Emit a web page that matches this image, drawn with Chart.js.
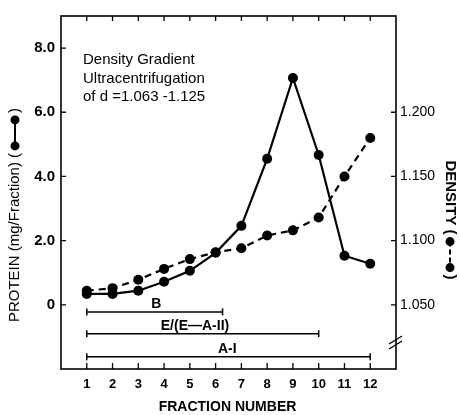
<!DOCTYPE html>
<html><head><meta charset="utf-8">
<script src="https://cdn.jsdelivr.net/npm/chart.js@4.4.0/dist/chart.umd.min.js"></script>
<style>html,body{margin:0;padding:0;background:#fff;} #wrap{width:460px;height:415px;}</style>
</head><body><div id="wrap"><canvas id="c" width="460" height="415"></canvas></div>
<script>
// ---- data ----
const fractions = [1,2,3,4,5,6,7,8,9,10,11,12];
const protein = [0.34,0.34,0.44,0.72,1.06,1.62,2.46,4.55,7.07,4.67,1.53,1.28];
const density = [1.061,1.063,1.0695,1.078,1.0856,1.091,1.094,1.104,1.108,1.118,1.150,1.180];
const proteinTicks = [0,2,4,6,8];
const densityTicks = [1.05,1.10,1.15,1.20];
const rangeNames = ['B','E/(E\u2014A-II)','A-I'];
const rangeStart = [1,1,1];
const rangeEnd = [6.27,10,12];
const annotationLines = ['Density Gradient','Ultracentrifugation','of d =1.063 -1.125'];
const xTitle = 'FRACTION NUMBER';
const leftTitle = ['PROTEIN (mg/Fraction) (', ')'];
const rightTitle = ['DENSITY (', ')'];

// ---- layout helpers (not data) ----
const rangeLevel = [-0.22,-0.9,-1.62];
const rangeLabelAt = [3.7,5.2,6.45];
const FONT = '"Liberation Sans", Arial, Helvetica, sans-serif';

const datasets = [
  {label:'protein', data: fractions.map((f,i)=>({x:f,y:protein[i]})), yAxisID:'y',
   borderColor:'#000', backgroundColor:'#000', borderWidth:2.2, pointRadius:5, pointBackgroundColor:'#000', pointBorderWidth:0, tension:0},
  {label:'density', data: fractions.map((f,i)=>({x:f,y:density[i]})), yAxisID:'y2',
   borderColor:'#000', backgroundColor:'#000', borderWidth:2.2, borderDash:[7,5], pointRadius:5, pointBackgroundColor:'#000', pointBorderWidth:0, tension:0}
];
rangeNames.forEach((n,i)=>{
  datasets.push({label:n, data:[{x:rangeStart[i],y:rangeLevel[i]},{x:rangeEnd[i],y:rangeLevel[i]}], yAxisID:'y',
    borderColor:'#000', borderWidth:1.5, pointStyle:'line', rotation:90, pointRadius:3.5, pointBorderWidth:1.5, pointBorderColor:'#000'});
});

function drawComposite(ctx, cx, cy, angle, parts, dashed, weight){
  ctx.save(); ctx.translate(cx,cy); ctx.rotate(angle);
  ctx.font = weight + ' 15px ' + FONT;
  ctx.fillStyle='#000'; ctx.strokeStyle='#000';
  const w1 = ctx.measureText(parts[0]).width, w2 = ctx.measureText(parts[1]).width;
  const iconW = 40, total = w1+iconW+w2;
  let x = -total/2;
  ctx.textAlign='left'; ctx.textBaseline='middle';
  ctx.fillText(parts[0], x, 0); x += w1;
  const d1 = x+7, d2 = x+iconW-7;
  ctx.lineWidth=2; ctx.setLineDash(dashed?[5,3]:[]);
  ctx.beginPath(); ctx.moveTo(d1,0); ctx.lineTo(d2,0); ctx.stroke(); ctx.setLineDash([]);
  [d1,d2].forEach(d=>{ctx.beginPath(); ctx.arc(d,0,4.5,0,Math.PI*2); ctx.fill();});
  x += iconW; ctx.fillText(parts[1], x, 0);
  ctx.restore();
}

const deco = {
  id:'deco',
  afterDraw(chart){
    const ctx=chart.ctx, a=chart.chartArea, sx=chart.scales.x, sy=chart.scales.y, s2=chart.scales.y2;
    ctx.save();
    ctx.strokeStyle='#000'; ctx.fillStyle='#000';
    ctx.lineWidth=1.6;
    ctx.strokeRect(a.left,a.top,a.right-a.left,a.bottom-a.top);
    ctx.lineWidth=1.3;
    ctx.beginPath();
    fractions.forEach(f=>{const x=sx.getPixelForValue(f);
      ctx.moveTo(x,a.bottom); ctx.lineTo(x,a.bottom-6);
      ctx.moveTo(x,a.top); ctx.lineTo(x,a.top+5);});
    proteinTicks.forEach(v=>{const y=sy.getPixelForValue(v); ctx.moveTo(a.left,y); ctx.lineTo(a.left+5,y);});
    densityTicks.forEach(v=>{const y=s2.getPixelForValue(v); ctx.moveTo(a.right,y); ctx.lineTo(a.right-5,y);});
    ctx.stroke();
    // axis break marks
    ctx.lineWidth=1.4;
    ctx.beginPath();
    ctx.moveTo(a.right-7,a.bottom-25); ctx.lineTo(a.right+6,a.bottom-33);
    ctx.moveTo(a.right-7,a.bottom-20); ctx.lineTo(a.right+6,a.bottom-28);
    ctx.stroke();
    // range labels
    ctx.font='bold 14px '+FONT; ctx.textAlign='center'; ctx.textBaseline='middle';
    rangeNames.forEach((n,i)=>{
      ctx.fillText(n, sx.getPixelForValue(rangeLabelAt[i]), sy.getPixelForValue(rangeLevel[i])-8);
    });
    // annotation
    ctx.font='15px '+FONT; ctx.textAlign='left';
    annotationLines.forEach((t,i)=>ctx.fillText(t, a.left+22, a.top+44+i*18.5));
    // x title
    ctx.font='bold 14px '+FONT; ctx.textAlign='center';
    ctx.fillText(xTitle, (a.left+a.right)/2-1, 407);
    ctx.restore();
    drawComposite(ctx, 15, 215, -Math.PI/2, leftTitle, false, 'normal');
    drawComposite(ctx, 450, 220, Math.PI/2, rightTitle, true, 'bold');
  }
};

new Chart(document.getElementById('c'), {
  type:'line',
  data:{datasets},
  options:{
    responsive:false, animation:false, devicePixelRatio:1,
    layout:{padding:{top:16,left:0,right:0,bottom:0}},
    plugins:{legend:{display:false}, tooltip:{enabled:false}},
    scales:{
      x:{type:'linear', min:0, max:13, grid:{display:false, drawTicks:false}, border:{display:false},
        afterBuildTicks:s=>{s.ticks=fractions.map(v=>({value:v}));},
        afterFit:s=>{s.height=46;},
        ticks:{color:'#000', padding:8, font:{family:FONT,size:13,weight:'bold'}, maxRotation:0, autoSkip:false}},
      y:{type:'linear', position:'left', min:-2, max:9, grid:{display:false, drawTicks:false}, border:{display:false},
        afterBuildTicks:s=>{s.ticks=proteinTicks.map(v=>({value:v}));},
        afterFit:s=>{s.width=61;},
        ticks:{color:'#000', padding:6, font:{family:FONT,size:15,weight:'bold'}, callback:v=>v===0?'0':v.toFixed(1)}},
      y2:{type:'linear', position:'right', min:1.0, max:1.275, grid:{display:false, drawTicks:false}, border:{display:false},
        afterBuildTicks:s=>{s.ticks=densityTicks.map(v=>({value:v}));},
        afterFit:s=>{s.width=64;},
        ticks:{color:'#000', padding:4, font:{family:FONT,size:14}, callback:v=>v.toFixed(3)}}
    }
  },
  plugins:[deco]
});
</script></body></html>
